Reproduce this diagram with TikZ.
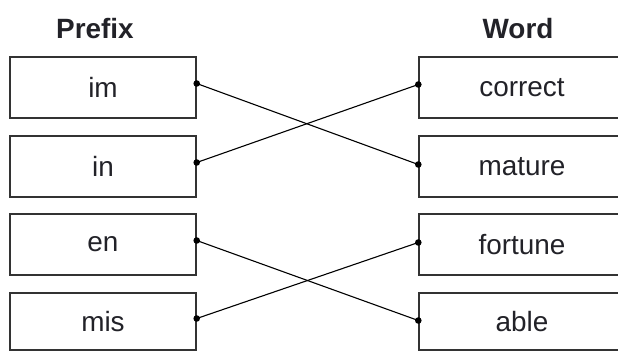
\documentclass[tikz,border=0pt]{standalone}
\usepackage{fontspec}
\setmainfont{Liberation Sans}
\usetikzlibrary{calc}
\definecolor{boxline}{HTML}{333333}
\definecolor{txt}{HTML}{222228}
\begin{document}
\begin{tikzpicture}[x={(1bp,0bp)},y={(0bp,-1bp)},
  box/.style={draw=boxline, line width=1.4bp, minimum width=186bp, minimum height=61bp, inner sep=0pt, font=\fontsize{28}{30}\selectfont, text=txt},
  rbox/.style={box, minimum width=206bp},
  head/.style={font=\fontsize{28}{30}\selectfont\bfseries, text=txt, inner sep=0pt},
  link/.style={draw=black, line width=1.1bp},
  dot/.style={fill=black, draw=none}]
\useasboundingbox (0,0) rectangle (618,352);
\clip (0,0) rectangle (618,352);
\fill[white] (0,0) rectangle (618,352);
\node[head] (hp) at (95,29) {Prefix};
\node[head] (hw) at (518,29) {Word};
\node[box] (im)  at (103,87.5)  {im};
\node[box] (in)  at (103,166.5) {in};
\node[box] (en)  at (103,244.5) {en};
\node[box, minimum height=57bp] (mis) at (103,321.5) {mis};
\node[rbox] (correct) at (522,87.5)  {correct};
\node[rbox] (mature)  at (522,166.5) {mature};
\node[rbox] (fortune) at (522,244.5) {fortune};
\node[rbox, minimum height=57bp] (able) at (522,321.5) {able};
\coordinate (pim)  at ($(im.east)+(0,-4)$);
\coordinate (pin)  at ($(in.east)+(0,-4)$);
\coordinate (pen)  at ($(en.east)+(0,-4)$);
\coordinate (pmis) at ($(mis.east)+(0,-3)$);
\coordinate (pcorrect) at ($(correct.west)+(0,-3)$);
\coordinate (pmature)  at ($(mature.west)+(0,-2)$);
\coordinate (pfortune) at ($(fortune.west)+(0,-2)$);
\coordinate (pable)    at ($(able.west)+(0,-1)$);
\draw[link] (pim) -- (pmature);
\draw[link] (pin) -- (pcorrect);
\draw[link] (pen) -- (pable);
\draw[link] (pmis) -- (pfortune);
\foreach \p in {pim,pin,pen,pmis,pcorrect,pmature,pfortune,pable}
  \fill[dot] (\p) circle (3.3bp);
\end{tikzpicture}
\end{document}
